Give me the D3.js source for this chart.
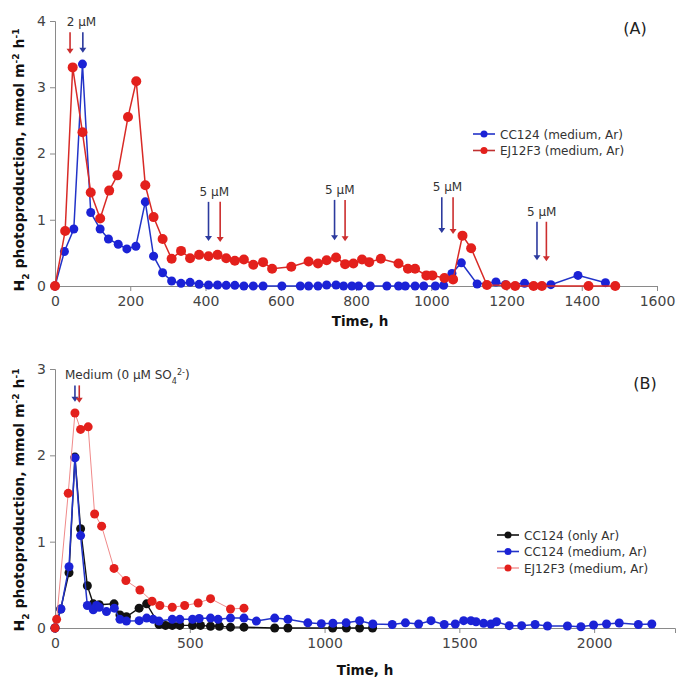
<!DOCTYPE html>
<html>
<head>
<meta charset="utf-8">
<script src="https://cdn.jsdelivr.net/npm/d3@7"></script>
<style>
  body { margin: 0; background: #fff; }
  svg { display: block; font-family: "DejaVu Sans", sans-serif; }
</style>
</head>
<body>
<svg id="chart" width="677" height="677"></svg>
<script>
// Panel A data: [time h, H2 rate]
var cc124A = [[0,0],[25,0.52],[50,0.86],[73,3.35],[95,1.11],[120,0.86],[142,0.71],[168,0.63],[191,0.56],[215,0.60],
  [240,1.27],[262,0.45],[286,0.20],[310,0.075],[335,0.04],[359,0.055],[383,0.025],[408,0.015],[432,0.015],[455,0.01],
  [478,0.01],[502,0],[527,0],[553,0],[603,0],[652,0],[674,0],[699,0],[722,0.015],[747,0.015],[767,0],[789,0],[807,0],
  [838,0],[882,0],[913,0],[931,0],[957,0],[980,0],[1011,0],[1033,0.01],[1055,0.19],[1080,0.35],[1122,0.03],[1172,0.06],
  [1197,0.02],[1248,0.04],[1318,0.02],[1390,0.16],[1463,0.05]];
var ej12f3A = [[0,0],[27,0.83],[47,3.30],[73,2.32],[95,1.41],[120,1.02],[144,1.44],[166,1.67],[194,2.55],[216,3.09],
  [240,1.52],[262,1.04],[286,0.71],[310,0.41],[335,0.53],[359,0.42],[383,0.47],[408,0.45],[432,0.47],[455,0.42],
  [478,0.38],[502,0.40],[527,0.32],[553,0.36],[577,0.26],[628,0.29],[674,0.37],[699,0.34],[722,0.39],[747,0.43],
  [771,0.33],[793,0.34],[816,0.40],[835,0.36],[866,0.41],[913,0.34],[938,0.26],[957,0.26],[987,0.16],[1003,0.16],
  [1035,0.12],[1058,0.10],[1083,0.76],[1106,0.57],[1148,0.015],[1199,0.01],[1223,0],[1272,0],[1294,0],[1418,0],[1489,0]];

// Panel B data
var cc124OnlyB = [[0,0],[21,0.22],[52,0.64],[74,1.98],[95,1.15],[120,0.49],[142,0.28],[164,0.27],[219,0.28],[241,0.15],
  [265,0.13],[312,0.23],[340,0.28],[386,0.04],[410,0.03],[435,0.03],[463,0.03],[510,0.03],[540,0.03],[577,0.02],
  [610,0.02],[651,0.01],[701,0.01],[815,0],[864,0],[1030,0],[1081,0],[1130,0],[1178,0]];
var cc124B = [[0,0],[22,0.22],[52,0.71],[74,1.97],[95,1.07],[120,0.26],[142,0.21],[154,0.26],[164,0.24],[191,0.19],
  [220,0.23],[241,0.10],[265,0.08],[312,0.085],[340,0.115],[364,0.10],[386,0.08],[435,0.10],[463,0.10],[510,0.10],
  [535,0.11],[577,0.115],[605,0.10],[651,0.115],[701,0.115],[747,0.08],[815,0.115],[864,0.10],[938,0.06],[988,0.05],
  [1031,0.055],[1080,0.06],[1130,0.085],[1179,0.046],[1251,0.04],[1300,0.06],[1349,0.046],[1395,0.085],[1444,0.04],
  [1485,0.046],[1516,0.085],[1543,0.085],[1562,0.073],[1590,0.054],[1617,0.046],[1638,0.073],[1685,0.027],[1731,0.027],
  [1781,0.04],[1827,0.023],[1901,0.023],[1951,0.015],[1998,0.035],[2046,0.046],[2093,0.058],[2164,0.04],[2214,0.046]];
var ej12f3B = [[0,0],[6,0.10],[49,1.56],[74,2.49],[95,2.30],[123,2.33],[147,1.32],[173,1.18],[219,0.69],[263,0.55],
  [315,0.44],[360,0.31],[389,0.26],[435,0.24],[481,0.26],[531,0.29],[577,0.34],[651,0.22],[701,0.23]];

// sulfate additions: time, arrow top, arrow bottom (y units)
var arrowsA = [
  { label: "2 µM", blue: 74, red: 40, top: 3.83, bottom: 3.52 },
  { label: "5 µM", blue: 408, red: 439, top: 1.27, bottom: 0.68 },
  { label: "5 µM", blue: 743, red: 771, top: 1.30, bottom: 0.69 },
  { label: "5 µM", blue: 1028, red: 1058, top: 1.34, bottom: 0.80 },
  { label: "5 µM", blue: 1281, red: 1306, top: 0.97, bottom: 0.39 }
];
var arrowsB = [{ blue: 74, red: 90, top: 2.81, bottom: 2.62 }];

var xTicksA = d3.range(0, 1601, 200), yTicksA = [0, 1, 2, 3, 4];
var xTicksB = [0, 500, 1000, 1500, 2000], yTicksB = [0, 1, 2, 3];

var BLUE = "#1b22d6", RED = "#e3201c", BLACK = "#111";
var svg = d3.select("#chart");

function drawAxes(x, y, xMajor, xMinor, yMajor, yMinor) {
  var y0 = y.range()[0], x0 = x.range()[0];
  var gx = svg.append("g").attr("transform", "translate(0," + y0 + ")");
  gx.call(d3.axisBottom(x).tickValues(xMinor).tickSize(3).tickFormat(""));
  gx.call(d3.axisBottom(x).tickValues(xMajor).tickSize(5).tickPadding(5).tickFormat(d3.format("d")));
  var gy = svg.append("g").attr("transform", "translate(" + x0 + ",0)");
  gy.call(d3.axisLeft(y).tickValues(yMinor).tickSize(3).tickFormat(""));
  gy.call(d3.axisLeft(y).tickValues(yMajor).tickSize(5).tickPadding(4).tickFormat(d3.format("d")));
  svg.selectAll(".domain, .tick line").attr("stroke", "#8a8a8a");
  svg.selectAll(".tick text").attr("fill", "#444").style("font-size", "14px")
    .style("font-family", "DejaVu Sans, sans-serif");
}

function yTitle(cy) {
  var t = svg.append("text")
    .attr("transform", "translate(24," + cy + ") rotate(-90)")
    .attr("text-anchor", "middle")
    .style("font-size", "14px").style("font-weight", "bold").attr("fill", "#111");
  t.append("tspan").text("H");
  t.append("tspan").text("2").attr("baseline-shift", "sub").style("font-size", "9px");
  t.append("tspan").text(" photoproduction, mmol m");
  t.append("tspan").text("-2").attr("baseline-shift", "super").style("font-size", "9px");
  t.append("tspan").text(" h");
  t.append("tspan").text("-1").attr("baseline-shift", "super").style("font-size", "9px");
}

function xTitle(cx, by) {
  svg.append("text").attr("x", cx).attr("y", by).attr("text-anchor", "middle")
    .style("font-size", "13.5px").style("font-weight", "bold").attr("fill", "#111").text("Time, h");
}

function series(x, y, data, lineColor, dotColor, lw, r) {
  var line = d3.line().x(function(d) { return x(d[0]); }).y(function(d) { return y(d[1]); });
  svg.append("path").datum(data).attr("fill", "none").attr("stroke", lineColor)
    .attr("stroke-width", lw).attr("d", line);
  svg.append("g").selectAll("circle").data(data).join("circle")
    .attr("cx", function(d) { return x(d[0]); })
    .attr("cy", function(d) { return y(d[1]); })
    .attr("r", r).attr("fill", dotColor);
}

function arrow(px, yTop, yBot, color) {
  svg.append("line").attr("x1", px).attr("x2", px).attr("y1", yTop).attr("y2", yBot - 4)
    .attr("stroke", color).attr("stroke-width", 1.6);
  svg.append("path")
    .attr("d", "M" + (px - 3.5) + "," + (yBot - 5) + "L" + (px + 3.5) + "," + (yBot - 5) + "L" + px + "," + yBot + "Z")
    .attr("fill", color);
}

function legend(x0, y0, items) {
  items.forEach(function(it, i) {
    var yy = y0 + i * 16.5;
    svg.append("line").attr("x1", x0).attr("x2", x0 + 22).attr("y1", yy).attr("y2", yy)
      .attr("stroke", it.line).attr("stroke-width", 1.6);
    svg.append("circle").attr("cx", x0 + 11).attr("cy", yy).attr("r", 3.5).attr("fill", it.dot);
    svg.append("text").attr("x", x0 + 27).attr("y", yy + 4.5).style("font-size", "12px")
      .attr("fill", "#333").text(it.name);
  });
}

// ---------- Panel A ----------
var xA = d3.scaleLinear().domain([0, 1600]).range([55, 657]);
var yA = d3.scaleLinear().domain([0, 4]).range([286, 21]);
drawAxes(xA, yA, xTicksA, d3.range(0, 1601, 50), yTicksA, d3.range(0, 4.01, 0.2));
series(xA, yA, cc124A, "#2233c8", BLUE, 1.5, 4.5);
series(xA, yA, ej12f3A, "#d82a26", RED, 1.5, 5);
arrowsA.forEach(function(a) {
  arrow(xA(a.blue), yA(a.top), yA(a.bottom), "#2c3a9e");
  arrow(xA(a.red), yA(a.top), yA(a.bottom) + 1, "#cc2e2e");
  svg.append("text").attr("x", (xA(a.blue) + xA(a.red)) / 2 + (a.label === "2 µM" ? 5 : 0))
    .attr("y", yA(a.top) - 6).attr("text-anchor", "middle")
    .style("font-size", "12px").attr("fill", "#333").text(a.label);
});
legend(473, 134, [
  { name: "CC124 (medium, Ar)", line: "#2233c8", dot: BLUE },
  { name: "EJ12F3 (medium, Ar)", line: "#c03030", dot: RED }
]);
svg.append("text").attr("x", 635).attr("y", 34).attr("text-anchor", "middle")
  .style("font-size", "16px").attr("fill", "#222").text("(A)");
yTitle(160);
xTitle(360, 326);

// ---------- Panel B ----------
var xB = d3.scaleLinear().domain([0, 2300]).range([55, 675]);
var yB = d3.scaleLinear().domain([0, 3]).range([628, 369]);
drawAxes(xB, yB, xTicksB, d3.range(0, 2301, 100), yTicksB, d3.range(0, 3.01, 0.2));
series(xB, yB, cc124OnlyB, BLACK, BLACK, 1.4, 4.5);
series(xB, yB, cc124B, "#2233c8", BLUE, 1.5, 4.5);
series(xB, yB, ej12f3B, "#f08a8a", RED, 1, 4.5);
arrowsB.forEach(function(a) {
  arrow(xB(a.blue), yB(a.top), yB(a.bottom), "#2c3a9e");
  arrow(xB(a.red), yB(a.top), yB(a.bottom) + 1, "#cc2e2e");
});
var med = svg.append("text").attr("x", 65).attr("y", 379).style("font-size", "12px").attr("fill", "#333");
med.append("tspan").text("Medium (0 µM SO");
med.append("tspan").text("4").attr("baseline-shift", "sub").style("font-size", "8px");
med.append("tspan").text("2-").attr("baseline-shift", "super").style("font-size", "8px");
med.append("tspan").text(")");
legend(497, 535, [
  { name: "CC124 (only Ar)", line: BLACK, dot: BLACK },
  { name: "CC124 (medium, Ar)", line: "#2233c8", dot: BLUE },
  { name: "EJ12F3 (medium, Ar)", line: "#f4a0a0", dot: RED }
]);
svg.append("text").attr("x", 645).attr("y", 389).attr("text-anchor", "middle")
  .style("font-size", "16px").attr("fill", "#222").text("(B)");
yTitle(500);
xTitle(365, 675);
</script>
</body>
</html>
